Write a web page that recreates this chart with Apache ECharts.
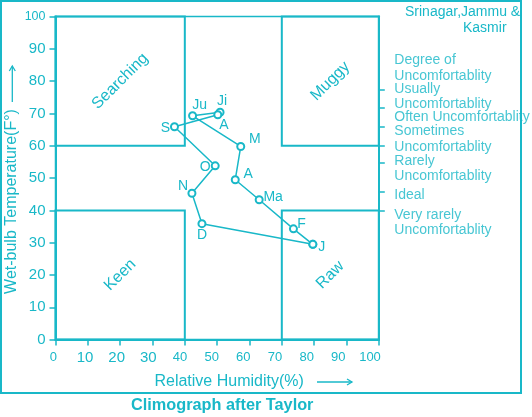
<!DOCTYPE html>
<html><head><meta charset="utf-8">
<script src="https://cdn.jsdelivr.net/npm/echarts@6/dist/echarts.min.js"></script>
<style>html,body{margin:0;padding:0;background:#fff}#c{width:532px;height:417px}</style>
</head><body><div id="c"></div>
<script>
// ---- data ----
const months = ['J','F','Ma','A','M','Ju','Ji','A','S','O','N','D','J'];
const humidity = [79.6, 73.6, 63.0, 55.6, 57.3, 42.4, 50.9, 50.2, 36.8, 49.4, 42.2, 45.3, 79.6];
const wetBulb  = [29.5, 34.3, 43.3, 49.5, 59.8, 69.3, 70.4, 69.6, 65.9, 53.8, 45.3, 35.9, 29.5];
const zoneNames = ['Searching','Muggy','Keen','Raw'];
const zoneX = [[0,40],[70,100],[0,40],[70,100]];
const zoneY = [[60,100],[60,100],[0,40],[0,40]];
const comfortTicks = [77.4, 71.7, 65.9, 60, 54.7, 45.7, 40];
const comfortLabelAt = [84.1, 75.2, 68.9, 62.1, 52.9, 44.6, 36.2];
const comfortLabels = ['Degree of\nUncomfortablity','Usually\nUncomfortablity','Often Uncomfortablity','Sometimes\nUncomfortablity','Rarely\nUncomfortablity','Ideal','Very rarely\nUncomfortablity'];
const xTickLabels = ['0','10','20','30','40','50','60','70','80','90','100'];
const yTickLabels = ['0','10','20','30','40','50','60','70','80','90','100'];

const C = '#19b8c8';
const FF = '"Liberation Sans", Arial, sans-serif';
const labelOffsets = [[9,3],[8,-5],[14,-3],[13,-6],[14,-7],[7,-11],[2,-11],[6,10],[-9,1],[-10,1],[-9,-7],[0,11],[0,0]];

const seriesData = humidity.map((h,i)=>({
  value:[h, wetBulb[i]],
  label:{show: i < months.length-1, position:'inside', offset: labelOffsets[i], formatter: months[i]}
}));

const chart = echarts.init(document.getElementById('c'), null, {renderer:'canvas'});
chart.setOption({
  animation:false,
  textStyle:{fontFamily:FF},
  title:[
    {text:'Climograph after Taylor', left:131, top:398, padding:0, textStyle:{color:C, fontSize:16.3, fontWeight:'bold', fontFamily:FF}},
    {text:'Srinagar,Jammu &', left:405, top:5, padding:0, textStyle:{color:C, fontSize:14, fontWeight:'normal', fontFamily:FF}},
    {text:'Kasmir', left:463, top:21, padding:0, textStyle:{color:C, fontSize:14, fontWeight:'normal', fontFamily:FF}}
  ],
  grid:[
    {left:55.5, right:532-378.8, top:16.6, bottom:417-339.6, show:true, backgroundColor:'transparent', borderColor:C, borderWidth:1.5, containLabel:false, outerBoundsMode:'none'},
    {left:53.3, right:532-370, top:16.6, bottom:417-339.6, show:false, containLabel:false, outerBoundsMode:'none'}
  ],
  xAxis:[
    {type:'value', gridIndex:0, min:0, max:100, interval:10,
     axisLine:{show:true, lineStyle:{color:C, width:2}},
     axisTick:{show:true, length:6, lineStyle:{color:C, width:1.5}},
     axisLabel:{show:false}, splitLine:{show:false},
     name:'Relative Humidity(%)', nameLocation:'middle', nameGap:34,
     nameTextStyle:{color:C, fontSize:16, fontFamily:FF, padding:[0,0,0,24]}},
    {type:'value', gridIndex:1, min:0, max:100, interval:10,
     axisLine:{show:false}, axisTick:{show:false}, splitLine:{show:false},
     axisLabel:{show:true, margin:11, color:C, fontFamily:FF, hideOverlap:false,
       formatter:(v)=>{const t=xTickLabels[Math.round(v/10)]; return (v>=10&&v<=30)?'{b|'+t+'}':'{n|'+t+'}';},
       rich:{b:{fontSize:15, color:C, fontFamily:FF}, n:{fontSize:13, color:C, fontFamily:FF}}}}
  ],
  yAxis:[
    {type:'value', gridIndex:0, min:0, max:100, interval:10,
     axisLine:{show:true, lineStyle:{color:C, width:2}},
     axisTick:{show:true, length:6, lineStyle:{color:C, width:1.5}},
     splitLine:{show:false},
     axisLabel:{margin:10, color:C, fontFamily:FF, hideOverlap:false,
       formatter:(v)=>{const t=yTickLabels[Math.round(v/10)]; return v===100?'{s|'+t+'}':'{n|'+t+'}';},
       rich:{s:{fontSize:12.5, color:C, fontFamily:FF}, n:{fontSize:15, color:C, fontFamily:FF}}}},
    {type:'value', gridIndex:0, position:'right', min:0, max:100,
     axisLine:{show:true, lineStyle:{color:C, width:2}},
     axisTick:{show:true, length:6, customValues:comfortTicks, lineStyle:{color:C, width:1.5}},
     splitLine:{show:false},
     axisLabel:{show:false}},
    {type:'value', gridIndex:1, min:0, max:100, show:false}
  ],
  series:[
    {type:'line', xAxisIndex:0, yAxisIndex:0, data:seriesData,
     symbol:'emptyCircle', symbolSize:7,
     lineStyle:{color:C, width:1.5},
     itemStyle:{color:C, borderWidth:1.5},
     label:{color:C, fontSize:14, fontFamily:FF},
     markArea:{silent:true,
       itemStyle:{color:'rgba(0,0,0,0)', borderColor:C, borderWidth:2},
       label:{show:true, position:'inside', rotate:45, color:C, fontSize:16, fontFamily:FF},
       data: zoneNames.map((n,i)=>[{name:n, xAxis:zoneX[i][0], yAxis:zoneY[i][0]},{xAxis:zoneX[i][1], yAxis:zoneY[i][1]}])
     }},
    {type:'scatter', xAxisIndex:0, yAxisIndex:1, symbol:'circle', symbolSize:2, silent:true, clip:false,
     itemStyle:{color:'rgba(0,0,0,0)'},
     data: comfortLabelAt.map((y,i)=>({value:[100, y], name:comfortLabels[i]})),
     label:{show:true, position:'right', distance:14.5, align:'left', color:C, fontSize:14, lineHeight:15.5, fontFamily:FF,
       formatter:(p)=>p.name},
     labelLayout:{hideOverlap:false}}
  ],
  graphic:[
    {type:'rect', shape:{x:1, y:1, width:520, height:392}, style:{fill:'none', stroke:C, lineWidth:2}, silent:true},
    {type:'text', x:12, y:201.5, rotation:Math.PI/2, silent:true,
     style:{text:'Wet-bulb Temperature(F°)', fill:C, font:'16px "Liberation Sans", Arial, sans-serif', align:'center', verticalAlign:'middle'}},
    {type:'line', shape:{x1:317, y1:382, x2:352, y2:382}, style:{stroke:C, lineWidth:1.3}},
    {type:'polyline', shape:{points:[[347,379],[352,382],[347,385]]}, style:{stroke:C, fill:'none', lineWidth:1.3}},
    {type:'line', shape:{x1:12.3, y1:102, x2:12.3, y2:66}, style:{stroke:C, lineWidth:1.3}},
    {type:'polyline', shape:{points:[[9.3,71],[12.3,66],[15.3,71]]}, style:{stroke:C, fill:'none', lineWidth:1.3}}
  ]
});
</script></body></html>
